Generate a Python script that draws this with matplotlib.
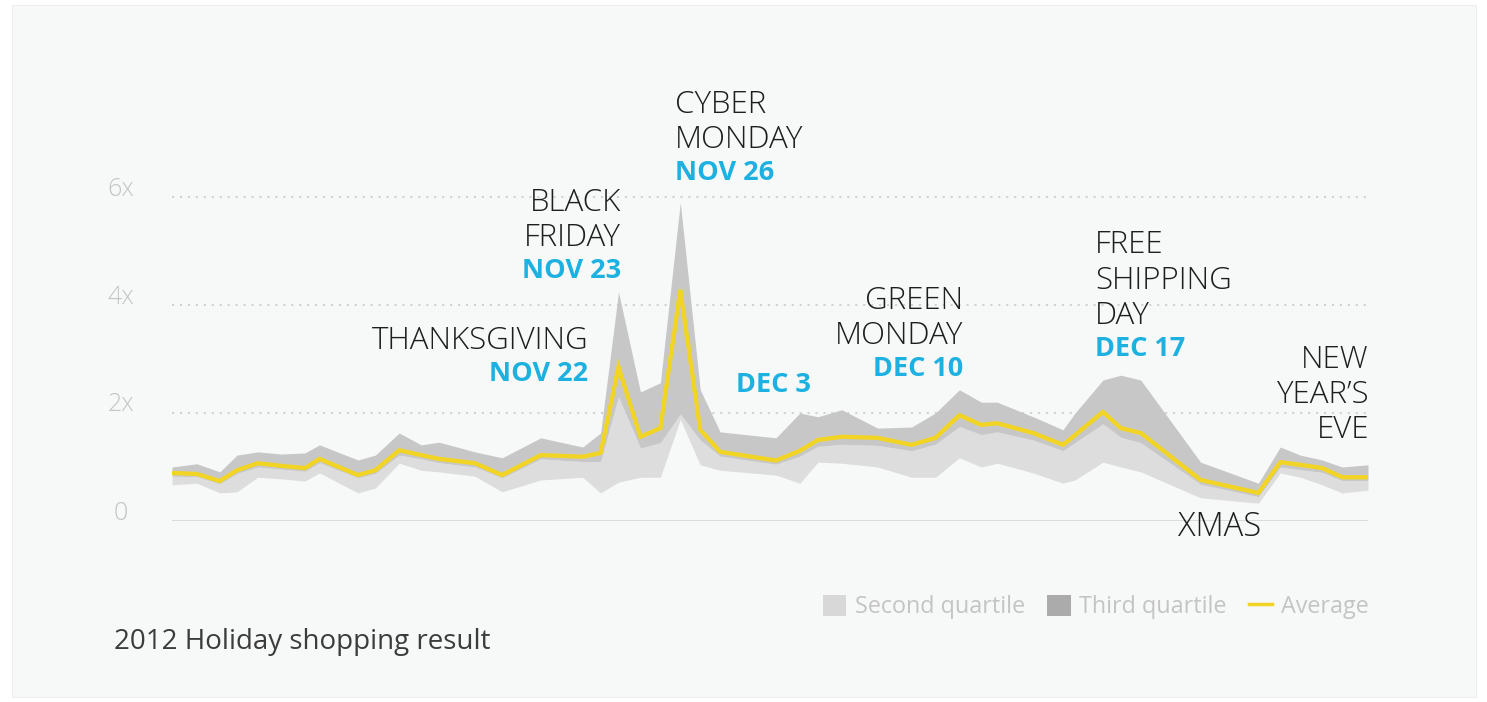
import matplotlib
matplotlib.use("Agg")
import matplotlib.pyplot as plt
from matplotlib.patches import Rectangle, Patch
from matplotlib.lines import Line2D

# ---- data (days since Nov 1, 2012) ----
days = [0, 1.25, 2.4, 3.26, 4.3, 5.5, 6.67, 7.4, 9.33, 10.2,
        11.4, 12.5, 13.4, 15.2, 16.56, 18.5, 20.6, 21.5, 22.4, 23.5,
        24.5, 25.5, 26.5, 27.5, 30.3, 31.5, 32.4, 33.6, 35.4, 37.1,
        38.3, 39.5, 40.6, 41.4, 43.2, 44.7, 45.3, 46.7, 47.6, 48.6,
        51.6, 54.5, 55.6, 56.6, 57.7, 58.7, 60]
average = [0.89, 0.87, 0.74, 0.94, 1.07, 1.02, 0.98, 1.15, 0.85, 0.94,
           1.31, 1.22, 1.15, 1.07, 0.85, 1.22, 1.19, 1.26, 2.85, 1.56,
           1.72, 4.28, 1.69, 1.28, 1.12, 1.30, 1.50, 1.56, 1.54, 1.41,
           1.54, 1.96, 1.78, 1.81, 1.63, 1.41, 1.59, 2.02, 1.72, 1.63,
           0.76, 0.52, 1.09, 1.04, 0.98, 0.81, 0.81]
q3_top = [1.0, 1.06, 0.91, 1.22, 1.28, 1.24, 1.26, 1.41, 1.13, 1.22,
          1.63, 1.41, 1.46, 1.28, 1.17, 1.54, 1.37, 1.63, 4.24, 2.39,
          2.56, 5.9, 2.43, 1.65, 1.54, 2.0, 1.93, 2.06, 1.72, 1.74,
          2.0, 2.43, 2.2, 2.2, 1.93, 1.69, 2.0, 2.61, 2.7, 2.61,
          1.09, 0.7, 1.37, 1.22, 1.13, 1.0, 1.04]
median = [0.83, 0.82, 0.69, 0.88, 1.0, 0.96, 0.92, 1.08, 0.8, 0.88,
          1.22, 1.15, 1.08, 1.0, 0.8, 1.15, 1.1, 1.1, 2.3, 1.35,
          1.45, 1.98, 1.5, 1.2, 1.05, 1.2, 1.38, 1.42, 1.4, 1.3,
          1.42, 1.75, 1.6, 1.65, 1.5, 1.3, 1.45, 1.8, 1.55, 1.45,
          0.68, 0.45, 1.0, 0.95, 0.9, 0.75, 0.75]
q1_bottom = [0.67, 0.7, 0.52, 0.54, 0.81, 0.78, 0.74, 0.89, 0.52, 0.61,
             1.07, 0.94, 0.91, 0.83, 0.54, 0.76, 0.81, 0.52, 0.72, 0.81,
             0.81, 1.88, 1.04, 0.94, 0.85, 0.7, 1.09, 1.07, 1.0, 0.81,
             0.81, 1.17, 1.0, 1.07, 0.89, 0.7, 0.76, 1.09, 1.0, 0.91,
             0.43, 0.33, 0.89, 0.81, 0.67, 0.52, 0.57]
ytick_values = [0, 2, 4, 6]
ytick_labels = ["0", "2x", "4x", "6x"]

# ---- style ----
W, H = 1487, 702
BG = "#f7f8f8"
LIGHT = "#dddddd"
DARK = "#c7c7c7"
YELLOW = "#f2d524"
CYAN = "#1cb1e0"
TXT = "#1e1e1e"
LABEL_FONT = ["Open Sans", "DejaVu Sans"]

fig = plt.figure(figsize=(W / 100, H / 100), dpi=100)
fig.patch.set_facecolor("white")
bg = Rectangle((12 / W, 5 / H), (1476 - 12) / W, (697 - 5) / H,
               transform=fig.transFigure, facecolor=BG,
               edgecolor="#eeeeee", lw=0.8, zorder=-10)
fig.patches.append(bg)

def px(x, y):
    return x / W, 1 - y / H

x0, x1 = 172, 1368
y0, per = 521, 54
ax = fig.add_axes([x0 / W, (H - y0) / H, (x1 - x0) / W, 7 * per / H])
ax.set_zorder(1)
ax.set_xlim(0, 60)
ax.set_ylim(0, 7)
ax.patch.set_alpha(0)
for s in ax.spines.values():
    s.set_visible(False)
ax.set_xticks([])
ax.set_yticks([])

for v in ytick_values[1:]:
    ax.axhline(v, color="#cfcfcf", lw=1.3, ls=(0, (1.2, 3.2)), zorder=1)
ax.axhline(0, color="#d8d8d8", lw=2, zorder=1)

ax.fill_between(days, q1_bottom, median, color=LIGHT, lw=0, zorder=2)
ax.fill_between(days, median, q3_top, color=DARK, lw=0, zorder=2)
ax.plot(days, average, color=YELLOW, lw=3.1, zorder=3, solid_joinstyle="miter")

# y labels
for v, lab in zip(ytick_values, ytick_labels):
    yy = y0 - v * per - 8
    fig.text(*px(121, yy), lab, ha="center", va="center", fontsize=18,
             color="#c4c4c4", family=LABEL_FONT, fontweight="light")

# annotations
def block(x, ys, lines, date, ha):
    for yy, t in zip(ys, lines):
        fig.text(*px(x, yy), t, ha=ha, va="center", fontsize=22.5, color=TXT,
                 family=LABEL_FONT, fontweight="light")
    if date:
        fig.text(*px(x, ys[-1] + 33), date, ha=ha, va="center", fontsize=19.5,
                 color=CYAN, family=LABEL_FONT, fontweight="bold")

block(588, [341], ["THANKSGIVING"], "NOV 22", "right")
block(621, [203, 238], ["BLACK", "FRIDAY"], "NOV 23", "right")
block(675, [105, 140], ["CYBER", "MONDAY"], "NOV 26", "left")
fig.text(*px(736, 385), "DEC 3", ha="left", va="center", fontsize=19.5,
         color=CYAN, family=LABEL_FONT, fontweight="bold")
block(963, [301, 336], ["GREEN", "MONDAY"], "DEC 10", "right")
block(1095, [245, 281, 316], ["FREE", "SHIPPING", "DAY"], "DEC 17", "left")
fig.text(*px(1178, 527), "XMAS", ha="left", va="center", fontsize=23.5,
         color=TXT, family=LABEL_FONT, fontweight="light")
block(1369, [360, 395, 430], ["NEW", "YEAR\u2019S", "EVE"], None, "right")

# legend
handles = [Patch(facecolor="#d8d8d8", edgecolor="none"),
           Patch(facecolor="#ababab", edgecolor="none"),
           Line2D([0], [0], color=YELLOW, lw=2.5)]
leg = fig.legend(handles, ["Second quartile", "Third quartile", "Average"],
                 loc="center right", bbox_to_anchor=px(1369, 607), ncol=3,
                 frameon=False, handlelength=1.0, handleheight=1.0,
                 handletextpad=0.38, columnspacing=0.95, borderpad=0,
                 borderaxespad=0,
                 prop={"family": LABEL_FONT, "size": 16.8})
for t in leg.get_texts():
    t.set_color("#c4c4c4")

fig.text(*px(114, 642), "2012 Holiday shopping result", ha="left", va="center",
         fontsize=20, color="#3c3c3c", family=LABEL_FONT)

fig.savefig("out.png", dpi=100, facecolor=fig.get_facecolor())
